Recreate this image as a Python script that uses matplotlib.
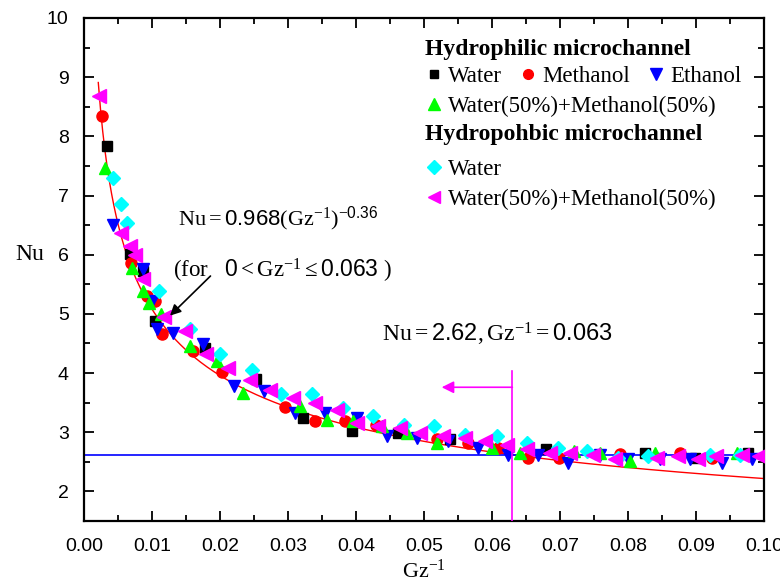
import numpy as np
import matplotlib
matplotlib.use('Agg')
import matplotlib.pyplot as plt
from matplotlib.ticker import MultipleLocator, FormatStrFormatter

plt.rcParams['font.family'] = ['Liberation Serif', 'DejaVu Serif']
plt.rcParams['mathtext.fontset'] = 'custom'
plt.rcParams['mathtext.rm'] = 'Liberation Serif'
plt.rcParams['mathtext.it'] = 'Liberation Serif:italic'
plt.rcParams['mathtext.bf'] = 'Liberation Serif:bold'
plt.rcParams['mathtext.sf'] = 'Liberation Sans'

# Hydrophilic microchannel
phil_water_x = [0.0034, 0.0067, 0.0087, 0.0104, 0.0178, 0.0253, 0.0322, 0.0394, 0.0462,
                0.0538, 0.0680, 0.0825, 0.0899, 0.0977]
phil_water_y = [7.83, 6.01, 5.72, 4.88, 4.43, 3.90, 3.24, 3.02, 2.99,
                2.88, 2.71, 2.65, 2.57, 2.65]

phil_meth_x = [0.0026, 0.0069, 0.0092, 0.0104, 0.0114, 0.0160, 0.0203, 0.0296, 0.0340,
               0.0384, 0.0430, 0.0519, 0.0565, 0.0609, 0.0653, 0.0698, 0.0788, 0.0876, 0.0923]
phil_meth_y = [8.34, 5.86, 5.30, 5.22, 4.66, 4.37, 4.02, 3.42, 3.19,
               3.19, 3.13, 2.88, 2.82, 2.73, 2.56, 2.56, 2.64, 2.65, 2.56]

phil_eth_x = [0.0042, 0.0087, 0.0100, 0.0107, 0.0131, 0.0175, 0.0220, 0.0264, 0.0310,
              0.0354, 0.0401, 0.0445, 0.0489, 0.0536, 0.0580, 0.0624, 0.0668, 0.0712,
              0.0759, 0.0800, 0.0847, 0.0891, 0.0938, 0.0982]
phil_eth_y = [6.51, 5.76, 5.22, 4.74, 4.68, 4.49, 3.78, 3.69, 3.33,
              3.33, 3.24, 2.93, 2.90, 2.85, 2.73, 2.62, 2.62, 2.48,
              2.62, 2.54, 2.54, 2.54, 2.48, 2.54]

phil_mix_x = [0.0031, 0.0070, 0.0087, 0.0095, 0.0113, 0.0156, 0.0195, 0.0234, 0.0318,
              0.0357, 0.0396, 0.0438, 0.0475, 0.0519, 0.0600, 0.0641, 0.0720, 0.0759,
              0.0803, 0.0840, 0.0960]
phil_mix_y = [7.47, 5.78, 5.39, 5.19, 5.00, 4.46, 4.20, 3.67, 3.44,
              3.21, 3.19, 3.10, 2.99, 2.82, 2.73, 2.65, 2.68, 2.65,
              2.52, 2.65, 2.65]

# Hydrophobic microchannel
phob_water_x = [0.0042, 0.0054, 0.0063, 0.0111, 0.0156, 0.0200, 0.0247, 0.0290, 0.0335,
                0.0381, 0.0425, 0.0470, 0.0514, 0.0560, 0.0607, 0.0651, 0.0697, 0.0739,
                0.0785, 0.0830, 0.0921, 0.0965]
phob_water_y = [7.30, 6.85, 6.53, 5.39, 4.75, 4.33, 4.06, 3.64, 3.64,
                3.41, 3.27, 3.13, 3.10, 2.96, 2.93, 2.82, 2.73, 2.68,
                2.57, 2.60, 2.62, 2.61]

phob_mix_x = [0.00225, 0.0054, 0.0067, 0.0075, 0.0087, 0.0117, 0.0149, 0.0180, 0.0212,
              0.0244, 0.0274, 0.0308, 0.0340, 0.0372, 0.0401, 0.0433, 0.0465, 0.0494,
              0.0528, 0.0561, 0.0590, 0.0622, 0.0651, 0.0685, 0.0715, 0.0749, 0.0781,
              0.0842, 0.0874, 0.0903, 0.0930, 0.0967, 0.0992]
phob_mix_y = [8.69, 6.37, 6.15, 6.00, 5.59, 4.94, 4.71, 4.32, 4.09,
              3.89, 3.72, 3.58, 3.50, 3.38, 3.16, 3.10, 3.07, 2.99,
              2.93, 2.90, 2.85, 2.79, 2.71, 2.65, 2.65, 2.62, 2.54,
              2.56, 2.59, 2.54, 2.59, 2.62, 2.60]

# correlation Nu = 0.968 (Gz^-1)^-0.36
fit_c = 0.968
fit_n = -0.36
fit_x = np.linspace(0.0021, 0.1, 300)
fit_y = fit_c * fit_x ** fit_n

nu_const = 2.62
gz_crit = 0.063

fig = plt.figure(figsize=(7.8, 5.81), dpi=100)
ax = fig.add_axes([84 / 780, 1 - 521 / 581, 680 / 780, 503 / 581])

ms = 8
ax.plot(fit_x, fit_y, color='red', lw=1, zorder=1)
ax.axhline(nu_const, color='blue', lw=1.2, zorder=1)
ax.plot(phil_water_x, phil_water_y, 's', color='black', ms=ms - 1, ls='none', zorder=3)
ax.plot(phil_meth_x, phil_meth_y, 'o', color='red', ms=ms, ls='none', zorder=3)
ax.plot(phil_eth_x, phil_eth_y, 'v', color='blue', ms=ms + 1, ls='none', zorder=3)
ax.plot(phil_mix_x, phil_mix_y, '^', color='#00ff00', ms=ms + 1, ls='none', zorder=3)
ax.plot(phob_water_x, phob_water_y, 'D', color='cyan', ms=ms - 1, ls='none', zorder=3)
ax.plot(phob_mix_x, phob_mix_y, '<', color='magenta', ms=ms + 2, ls='none', zorder=3)

# critical Gz^-1 marker
ax.plot([gz_crit, gz_crit], [1.5, 4.03], color='magenta', lw=1.2, zorder=4)
ax.annotate('', xy=(0.0526, 3.76), xytext=(gz_crit, 3.76),
            arrowprops=dict(arrowstyle='-|>', color='magenta', lw=1.2,
                            mutation_scale=18, shrinkA=0, shrinkB=0))

ax.text(0.0138, 6.61, r'$\mathrm{Nu} = \mathsf{0.968}(\mathrm{Gz}^{-1})^{-\mathsf{0.36}}$',
        fontsize=16, va='center', ha='left')
ax.text(0.0131, 5.73, r'(for   $\mathsf{0} < \mathrm{Gz}^{-1} \leq \mathsf{0.063}$ )',
        fontsize=16.5, va='center', ha='left')
ax.annotate('', xy=(0.01265, 4.97), xytext=(0.0186, 5.64),
            arrowprops=dict(arrowstyle='-|>', color='black', lw=1.2,
                            mutation_scale=16, shrinkA=0, shrinkB=0))
ax.text(0.0438, 4.66, r'$\mathrm{Nu} = \mathsf{2.62}, \mathrm{Gz}^{-1} = \mathsf{0.063}$',
        fontsize=17, va='center', ha='left')

ax.set_xlim(0, 0.10)
ax.set_ylim(1.5, 10)
ax.xaxis.set_major_locator(MultipleLocator(0.01))
ax.xaxis.set_minor_locator(MultipleLocator(0.005))
ax.xaxis.set_major_formatter(FormatStrFormatter('%.2f'))
ax.yaxis.set_minor_locator(MultipleLocator(0.5))
ax.set_yticks(range(2, 11))
ax.tick_params(which='both', direction='in', top=True, right=True, width=1.3)
ax.tick_params(which='major', length=7, labelsize=14)
ax.tick_params(axis='x', which='major', pad=12)
ax.tick_params(axis='y', which='major', pad=11)
ax.tick_params(which='minor', length=4)
for lab in ax.get_xticklabels() + ax.get_yticklabels():
    lab.set_fontfamily(['Liberation Sans Narrow', 'Liberation Sans'])
for sp in ax.spines.values():
    sp.set_linewidth(1.6)

ax.set_xlabel(r'$\mathrm{Gz}^{-1}$', fontsize=16)
ax.xaxis.set_label_coords(0.5, -0.076)
ax.set_ylabel('Nu', fontsize=17, rotation=0, ha='center', va='center')
ax.yaxis.set_label_coords(-0.079, 0.529)

# legends
h_w, = ax.plot([], [], 's', color='black', ms=6)
h_m, = ax.plot([], [], 'o', color='red', ms=7)
h_e, = ax.plot([], [], 'v', color='blue', ms=8)
h_x, = ax.plot([], [], '^', color='#00ff00', ms=8)
h_cw, = ax.plot([], [], 'D', color='cyan', ms=7)
h_cx, = ax.plot([], [], '<', color='magenta', ms=8)

common = dict(frameon=False, fontsize=16.5, handlelength=0.8, handletextpad=0.2,
              borderpad=0, borderaxespad=0, alignment='left')
title_font = {'weight': 'bold', 'size': 17}
leg1 = ax.legend([h_w, h_m, h_e], ['Water', 'Methanol', 'Ethanol'], ncol=3,
                 title='Hydrophilic microchannel', loc='upper left',
                 bbox_to_anchor=(0.5015, 0.958), columnspacing=0.75, labelspacing=0.25,
                 title_fontproperties=title_font, **common)
ax.add_artist(leg1)
leg2 = ax.legend([h_x], ['Water(50%)+Methanol(50%)'], loc='upper left',
                 bbox_to_anchor=(0.5015, 0.845), **common)
ax.add_artist(leg2)
leg3t = ax.legend([], [], title='Hydropohbic microchannel', loc='upper left',
                  bbox_to_anchor=(0.5015, 0.789), title_fontproperties=title_font,
                  **common)
ax.add_artist(leg3t)
leg3 = ax.legend([h_cw, h_cx], ['Water', 'Water(50%)+Methanol(50%)'],
                 loc='upper left', bbox_to_anchor=(0.5015, 0.719), labelspacing=0.35,
                 **common)

fig.savefig('out.png', dpi=100)
